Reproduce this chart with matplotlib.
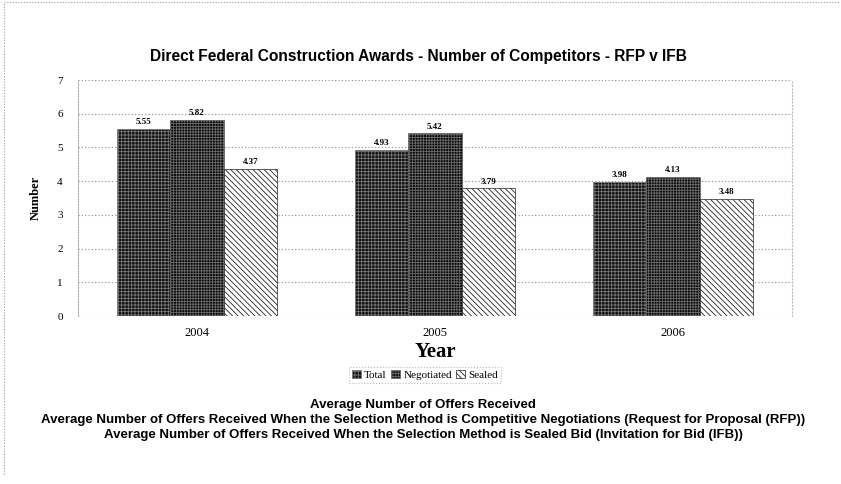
import numpy as np
import matplotlib
matplotlib.use("Agg")
import matplotlib.pyplot as plt

# data
years = ["2004", "2005", "2006"]
total = [5.55, 4.93, 3.98]
negotiated = [5.82, 5.42, 4.13]
sealed = [4.37, 3.79, 3.48]
series_names = ["Total", "Negotiated", "Sealed"]
yticks = [0, 1, 2, 3, 4, 5, 6, 7]

plt.rcParams['hatch.linewidth'] = 0.6
serif = "Liberation Serif"
sans = "Liberation Sans"

fig = plt.figure(figsize=(8.41, 4.84), dpi=100)
ax = fig.add_axes([0.0927, 0.3471, 0.8490, 0.4876])

x = np.arange(len(years))
w = 0.224
b1 = ax.bar(x - w, total, w, facecolor="#111111", edgecolor="#777777",
            hatch="+++++", linewidth=0.5, label=series_names[0])
b2 = ax.bar(x, negotiated, w, facecolor="#0a0a0a", edgecolor="#6a6a6a",
            hatch="++++++", linewidth=0.5, label=series_names[1])
b3 = ax.bar(x + w, sealed, w, facecolor="white", edgecolor="#222222",
            hatch="\\\\\\\\\\\\", linewidth=0.5, label=series_names[2])

for bars in (b1, b2, b3):
    for r in bars:
        ax.text(r.get_x() + r.get_width() / 2, r.get_height() + 0.08,
                "%.2f" % r.get_height(), ha="center", va="bottom",
                fontsize=6.5, fontweight="bold", family=serif)

ax.set_xlim(-0.5, 2.5)
ax.set_ylim(0, 7)
ax.set_yticks(yticks)
ax.set_xticks(x)
ax.set_xticklabels(years, family=serif, fontsize=9)
ax.set_yticklabels([str(t) for t in yticks], family=serif, fontsize=8)
ax.tick_params(length=0, pad=11)
ax.tick_params(axis="x", pad=8)
ax.yaxis.grid(True, linestyle=(0, (1, 2)), color="#888888", linewidth=0.8)
ax.set_axisbelow(True)
for s in ("top", "bottom"):
    ax.spines[s].set_visible(False)
ax.spines["left"].set_linestyle((0, (1, 1.5)))
ax.spines["left"].set_color("#aaaaaa")
ax.spines["right"].set_linestyle((0, (1, 2)))
ax.spines["right"].set_color("#bbbbbb")

ax.set_ylabel("Number", family=serif, fontweight="bold", fontsize=9, labelpad=11)
ax.set_xlabel("Year", family=serif, fontweight="bold", fontsize=15, labelpad=2)

fig.text(0.497, 1 - 57 / 484, "Direct Federal Construction Awards - Number of Competitors - RFP v IFB",
         ha="center", va="center", family=sans, fontweight="bold", fontsize=11.2)

leg = fig.legend(handles=[b1, b2, b3], loc="center", bbox_to_anchor=(425 / 841, 1 - 375 / 484),
                 ncol=3, frameon=True, prop={"family": serif, "size": 8},
                 handlelength=0.8, handleheight=0.8, handletextpad=0.3,
                 columnspacing=0.4, borderpad=0.25, fancybox=False)
leg.get_frame().set_edgecolor("#aaaaaa")
leg.get_frame().set_linestyle(":")
leg.get_frame().set_linewidth(0.8)

notes = ["Average Number of Offers Received",
         "Average Number of Offers Received When the Selection Method is Competitive Negotiations (Request for Proposal (RFP))",
         "Average Number of Offers Received When the Selection Method is Sealed Bid (Invitation for Bid (IFB))"]
for i, t in enumerate(notes):
    fig.text(0.503, 1 - (405 + 15 * i) / 484, t, ha="center", va="center",
             family=sans, fontweight="bold", fontsize=9.5)

# dotted outer border on left and top
fig.add_artist(plt.Line2D([0.005, 0.005], [0.02, 0.995], transform=fig.transFigure,
                          color="#999999", linestyle=(0, (1, 1.5)), linewidth=0.8))
fig.add_artist(plt.Line2D([0.005, 0.998], [0.995, 0.995], transform=fig.transFigure,
                          color="#999999", linestyle=(0, (1, 1.5)), linewidth=0.8))

fig.savefig("out.png", dpi=100)
